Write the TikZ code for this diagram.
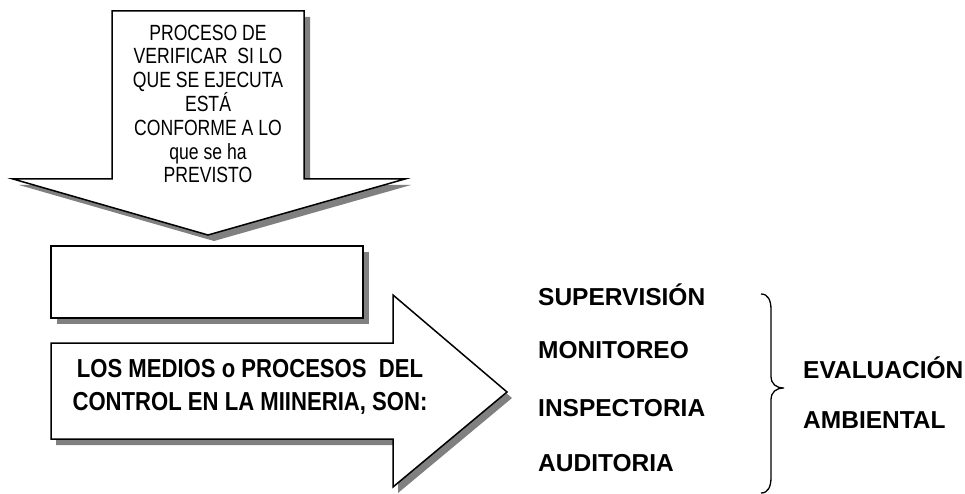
\documentclass[tikz,border=0pt]{standalone}
\usepackage{fontspec}
\setmainfont{Liberation Sans}
\newfontfamily\narrowfont[FakeStretch=0.8]{Liberation Sans}
\newfontfamily\midfont[FakeStretch=0.85]{Liberation Sans}
\begin{document}
\begin{tikzpicture}[x=1pt,y=-1pt,
  shade/.style={fill=black!50,draw=none},
  shapebox/.style={fill=white,draw=black,line width=1.5pt,line join=miter},
  toptext/.style={align=center,inner sep=0pt,font=\narrowfont\fontsize{22}{23.8}\selectfont},
  midtext/.style={align=center,inner sep=0pt,font=\midfont\bfseries\fontsize{26}{33}\selectfont},
  item/.style={anchor=west,inner sep=0pt,font=\bfseries\fontsize{24.5}{28}\selectfont}]
\useasboundingbox (0,0) rectangle (965,494);
% down arrow
\fill[shade,shift={(6,6)}] (112,11) -- (304,11) -- (304,179) -- (405,179) -- (208,235) -- (13,179) -- (112,179) -- cycle;
\filldraw[shapebox] (112,11) -- (304,11) -- (304,179) -- (405,179) -- (208,235) -- (13,179) -- (112,179) -- cycle;
\node[toptext] (top) at (208,104) {PROCESO DE\\VERIFICAR\ \ SI LO\\QUE SE EJECUTA\\ESTÁ\\CONFORME A LO\\que se ha\\PREVISTO};
% empty rectangle
\fill[shade,shift={(6,6)}] (51,246) rectangle (363,318);
\filldraw[shapebox,line width=1.8pt] (51,246) rectangle (363,318);
% right arrow
\fill[shade,shift={(5,6)}] (51,343) -- (393,343) -- (393,295) -- (507,392) -- (393,487) -- (393,439) -- (51,439) -- cycle;
\filldraw[shapebox] (51,343) -- (393,343) -- (393,295) -- (507,392) -- (393,487) -- (393,439) -- (51,439) -- cycle;
\node[midtext] (mid) at (250,387) {LOS MEDIOS o PROCESOS\ \ DEL\\CONTROL EN LA MIINERIA, SON:};
% items
\node[item] (sup) at (538,295) {SUPERVISIÓN};
\node[item] (mon) at (538,350) {MONITOREO};
\node[item] (ins) at (538,408) {INSPECTORIA};
\node[item] (aud) at (538,463.5) {AUDITORIA};
% brace
\draw[line width=1.3pt] (761,294) .. controls (768,294) and (771,300) .. (771,310) -- (771,376) .. controls (771,384) and (776,388) .. (784,388) .. controls (776,388) and (771,392) .. (771,400) -- (771,477) .. controls (771,487) and (768,493) .. (761,493);
\node[item] (eva) at (803,368) {EVALUACIÓN};
\node[item] (amb) at (803,420.5) {AMBIENTAL};
\end{tikzpicture}
\end{document}
